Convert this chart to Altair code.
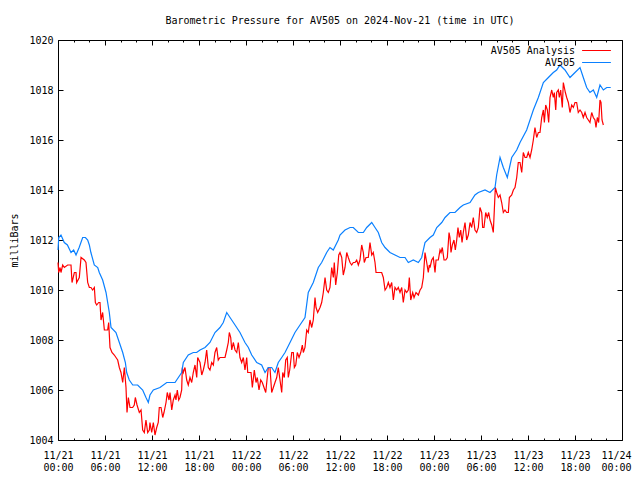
import altair as alt
import pandas as pd

# ---- data (hours after 2024-11-21 00:00 UTC, millibars) ----
blue_hours = [0.0, 0.1, 0.38, 0.8, 1.2, 1.66, 2.0, 2.3, 2.7, 3.15, 3.5, 3.79, 4.0, 4.2, 4.63, 5.07, 5.27,
              5.70, 6.13, 6.55, 6.77, 7.4, 7.83, 8.26, 8.6, 8.77, 9.1, 9.54, 10.17, 10.81, 11.23, 11.53,
              11.74, 12.17, 13.02, 13.88, 14.94, 15.15, 15.79, 16.0, 16.63, 17.27, 17.7, 18.13, 18.77,
              19.4, 20.04, 20.68, 21.1, 21.54, 21.96, 22.6, 23.23,
              23.87, 24.3, 24.73, 25.37, 26.0, 26.43, 26.85, 27.28, 27.7, 28.12, 28.56, 28.98, 29.62,
              30.25, 30.89, 31.53, 31.95, 32.59, 33.23, 33.66, 34.3, 34.72, 35.14, 35.78,
              36.0, 36.64, 37.28, 37.7, 38.34, 38.98, 39.41, 40.05, 40.47, 40.89, 41.32, 41.75, 42.38,
              43.02, 43.66, 44.3, 44.72, 45.36, 46.0, 46.43, 46.85,
              47.49, 47.91, 48.35, 48.99, 49.41, 50.04, 50.68, 51.32, 51.74, 52.6, 53.23, 53.66, 54.51,
              55.15, 55.79, 56.0, 56.43, 56.85, 57.36, 57.92, 58.56,
              58.98, 59.83, 60.68, 61.32, 61.96, 62.6, 63.23, 63.66, 64.08, 64.72, 65.36, 66.0, 66.64,
              67.06, 67.49, 67.91, 68.34, 68.77, 69.19, 69.62, 70.05, 70.56]
blue_mbar = [1011.6, 1012.1, 1012.2, 1011.9, 1011.8, 1011.5, 1011.6, 1011.4, 1011.7, 1012.1, 1012.1, 1012.0,
             1011.8, 1011.5, 1011.0, 1010.9, 1010.7, 1010.4, 1009.9, 1009.1, 1008.5, 1008.3, 1007.9, 1007.5,
             1007.1, 1006.7, 1006.4, 1006.2, 1006.2, 1006.0, 1005.7, 1005.5,
             1005.8, 1006.0, 1006.1, 1006.3, 1006.3, 1006.4, 1006.7, 1007.1, 1007.4, 1007.5, 1007.5, 1007.6,
             1007.7, 1007.9, 1008.3, 1008.5, 1008.7, 1009.1, 1008.9, 1008.6, 1008.3,
             1007.9, 1007.7, 1007.4, 1007.1, 1007.0, 1006.7, 1006.9, 1006.9, 1006.7, 1007.1, 1007.3, 1007.5,
             1007.9, 1008.3, 1008.6, 1008.9, 1009.9, 1010.3, 1010.9, 1011.1, 1011.5, 1011.7, 1011.6, 1012.0,
             1012.2, 1012.4, 1012.5, 1012.5, 1012.3, 1012.3, 1012.5, 1012.7, 1012.5, 1012.3, 1011.9, 1011.7,
             1011.5, 1011.4, 1011.3, 1011.3, 1011.1, 1011.2, 1011.1, 1011.3, 1011.9,
             1012.1, 1012.2, 1012.5, 1012.7, 1012.9, 1013.1, 1013.1, 1013.3, 1013.4, 1013.5, 1013.8, 1013.9,
             1014.0, 1013.9, 1014.1, 1014.6, 1015.3, 1014.9, 1014.5, 1015.3, 1015.6,
             1015.9, 1016.4, 1017.2, 1017.7, 1018.3, 1018.5, 1018.7, 1018.8, 1019.0, 1018.8, 1018.5, 1018.7,
             1018.9, 1018.5, 1018.1, 1017.9, 1018.0, 1017.7, 1018.2, 1018.0, 1018.1, 1018.1]

red_hours = [0.0, 0.09, 0.26, 0.38, 0.6, 0.81, 1.23, 1.66, 1.79, 2.09, 2.3, 2.38, 2.72, 2.94, 3.36, 3.57,
             3.79, 4.0, 4.21, 4.42, 4.64, 4.77, 4.94, 5.19, 5.36, 5.49, 5.7, 5.92, 6.34, 6.47, 6.64, 6.89,
             7.19, 7.4, 7.62, 7.83, 8.04, 8.26, 8.47, 8.68, 8.81, 8.98, 9.19, 9.53, 9.74, 9.87, 10.09,
             10.38, 10.6, 10.81, 11.02, 11.23, 11.45, 11.66,
             11.74, 11.96, 12.17, 12.38, 12.6, 12.8, 12.93, 13.15, 13.37, 13.53, 13.79, 13.95, 14.17, 14.3,
             14.52, 14.72, 14.94, 15.06, 15.23, 15.41, 15.57, 15.79, 15.87, 16.0, 16.21, 16.43, 16.63,
             16.85, 17.07, 17.27, 17.49, 17.71, 17.83, 18.13, 18.35, 18.55, 18.77, 18.98, 19.19, 19.4,
             19.62, 19.83, 20.04, 20.26, 20.46, 20.68, 20.9, 21.32, 21.54, 21.74, 21.87, 22.05, 22.18,
             22.38, 22.6, 22.82, 23.02, 23.23, 23.45, 23.66,
             23.87, 24.09, 24.22, 24.38, 24.64, 24.81, 25.06, 25.28, 25.44, 25.66, 25.88, 26.08, 26.3,
             26.52, 26.68, 26.85, 27.06, 27.28, 27.49, 27.7, 27.92, 28.12, 28.34, 28.56, 28.69, 28.89,
             29.07, 29.27, 29.4, 29.58, 29.84, 30.04, 30.17, 30.35, 30.55, 30.77, 30.99, 31.19, 31.32,
             31.53, 31.75, 31.95, 32.17, 32.39, 32.59, 32.81, 32.94, 33.15, 33.45, 33.66, 33.87, 34.09,
             34.3, 34.51, 34.72, 34.94, 35.15, 35.27, 35.45, 35.66, 35.84,
             36.0, 36.22, 36.42, 36.64, 36.86, 37.06, 37.28, 37.49, 37.7, 37.92, 38.13, 38.34, 38.55,
             38.77, 38.98, 39.1, 39.32, 39.61, 39.83, 40.05, 40.25, 40.47, 40.6, 40.89, 41.11, 41.32,
             41.53, 41.75, 41.96, 42.17, 42.38, 42.6, 42.81, 43.02, 43.24, 43.44, 43.66, 43.88, 44.08,
             44.3, 44.51, 44.72, 44.85, 45.03, 45.28, 45.45, 45.7, 46.0, 46.22, 46.43, 46.64, 46.85,
             47.07, 47.27, 47.4,
             47.49, 47.71, 47.91, 48.13, 48.26, 48.55, 48.77, 48.9, 49.06, 49.28, 49.5, 49.7, 49.92,
             50.04, 50.17, 50.34, 50.55, 50.72, 50.9, 51.06, 51.23, 51.41, 51.58, 51.74, 51.96, 52.17,
             52.38, 52.6, 52.81, 53.02, 53.23, 53.45, 53.66, 53.87, 54.09, 54.21, 54.38, 54.6, 54.8,
             54.98, 55.15, 55.37, 55.57, 55.7, 55.83, 56.0, 56.21, 56.43, 56.64, 56.85, 57.06, 57.28,
             57.49, 57.62, 57.92, 58.13, 58.34, 58.56, 58.76,
             58.98, 59.2, 59.4, 59.62, 59.83, 60.04, 60.26, 60.47, 60.68, 60.89, 61.11, 61.32, 61.53,
             61.75, 61.96, 62.09, 62.26, 62.47, 62.64, 62.81, 63.03, 63.23, 63.36, 63.54, 63.66, 63.87,
             64.0, 64.17, 64.38, 64.51, 64.64, 64.77, 64.94, 65.15, 65.36, 65.58, 65.79, 66.0, 66.21,
             66.42, 66.64, 66.86, 67.06, 67.28, 67.49, 67.7, 67.91, 68.13, 68.34, 68.55, 68.68, 68.85,
             69.02, 69.19, 69.32, 69.45, 69.62]
red_mbar = [1011.1, 1010.7, 1010.9, 1010.7, 1011.0, 1010.9, 1011.0, 1011.0, 1010.3, 1010.7, 1010.7, 1010.3,
            1010.5, 1011.3, 1011.2, 1011.1, 1010.3, 1010.1, 1010.1, 1010.0, 1010.1, 1009.5, 1009.4, 1009.5,
            1009.5, 1008.8, 1009.1, 1008.4, 1008.4, 1008.7, 1007.7, 1007.5, 1007.4, 1007.3, 1007.2, 1006.9,
            1006.7, 1006.3, 1006.9, 1006.1, 1005.1, 1005.7, 1005.3, 1005.3, 1005.4, 1005.7, 1005.4, 1005.1,
            1005.2, 1004.4, 1004.3, 1004.8, 1004.3, 1004.4,
            1004.7, 1004.3, 1004.7, 1004.2, 1004.5, 1004.7, 1005.3, 1005.3, 1004.9, 1005.1, 1005.5, 1005.9,
            1005.6, 1005.9, 1005.2, 1005.6, 1005.8, 1005.6, 1006.0, 1005.6, 1005.7, 1006.0, 1006.9, 1006.7,
            1006.9, 1006.4, 1006.2, 1006.5, 1006.3, 1006.7, 1007.0, 1006.5, 1007.3, 1007.1, 1006.6, 1006.8,
            1007.1, 1007.6, 1006.9, 1006.8, 1007.1, 1007.0, 1007.5, 1007.7, 1007.2, 1007.3, 1007.3, 1007.3,
            1007.6, 1007.9, 1008.3, 1008.1, 1007.6, 1007.9, 1007.6, 1007.5, 1007.9, 1007.3, 1007.1, 1007.3,
            1006.8, 1007.3, 1006.7, 1006.7, 1006.7, 1006.1, 1006.8, 1006.3, 1006.5, 1006.0, 1006.4, 1006.3,
            1006.1, 1005.9, 1006.4, 1006.9, 1006.9, 1005.9, 1006.1, 1006.3, 1006.5, 1006.9, 1006.4, 1005.9,
            1006.7, 1006.5, 1007.2, 1007.3, 1006.5, 1006.8, 1007.5, 1007.5, 1006.9, 1007.0, 1007.5, 1007.3,
            1007.5, 1007.8, 1007.5, 1007.7, 1008.4, 1008.3, 1008.8, 1008.5, 1008.8, 1009.7, 1009.3, 1009.1,
            1009.3, 1009.5, 1009.9, 1010.5, 1010.0, 1009.9, 1010.1, 1010.9, 1010.5, 1011.1, 1010.2, 1010.7,
            1011.4,
            1011.5, 1011.3, 1010.6, 1010.9, 1011.5, 1011.3, 1011.1, 1011.0, 1011.1, 1011.1, 1011.2, 1011.0,
            1011.2, 1011.8, 1011.5, 1011.1, 1011.3, 1011.3, 1011.9, 1011.4, 1011.5, 1011.1, 1010.7, 1010.7,
            1010.7, 1010.7, 1010.5, 1010.0, 1010.1, 1010.3, 1010.1, 1010.3, 1009.6, 1010.1, 1010.0, 1010.1,
            1009.9, 1010.1, 1009.5, 1010.0, 1009.9, 1010.0, 1010.5, 1009.6, 1009.9, 1009.7, 1009.9, 1009.8,
            1010.0, 1010.1, 1010.5, 1011.5, 1011.1, 1010.7, 1011.0,
            1010.9, 1011.2, 1011.3, 1010.7, 1011.2, 1011.2, 1011.6, 1011.5, 1011.7, 1011.2, 1011.2, 1011.3,
            1012.3, 1012.1, 1011.5, 1011.8, 1012.0, 1011.6, 1012.0, 1012.5, 1012.1, 1012.4, 1011.9, 1012.3,
            1012.7, 1012.0, 1012.2, 1012.7, 1012.5, 1012.9, 1012.4, 1012.3, 1012.5, 1013.3, 1013.1, 1012.5,
            1012.5, 1013.1, 1012.9, 1013.1, 1012.8, 1012.6, 1012.3, 1013.2, 1014.1, 1013.9, 1013.7, 1013.8,
            1013.5, 1013.1, 1013.2, 1013.1, 1013.1, 1013.7, 1013.8, 1014.0, 1014.1, 1014.5, 1015.1,
            1015.1, 1014.7, 1015.5, 1015.3, 1015.3, 1015.5, 1015.3, 1015.6, 1016.0, 1016.5, 1016.1, 1016.3,
            1016.3, 1016.9, 1017.2, 1016.7, 1017.4, 1017.2, 1016.7, 1017.7, 1018.0, 1017.7, 1017.9, 1017.2,
            1017.9, 1018.0, 1017.7, 1018.0, 1017.3, 1018.3, 1018.1, 1017.9, 1017.7, 1017.5, 1017.1, 1017.4,
            1017.3, 1017.5, 1017.5, 1017.1, 1017.2, 1017.1, 1016.9, 1017.1, 1016.9, 1016.8, 1016.7, 1017.1,
            1016.9, 1016.8, 1016.5, 1016.9, 1016.7, 1017.6, 1017.5, 1016.8, 1016.6]

series_names = ["AV505 Analysis", "AV505"]
series_colors = ["#ff0000", "#0a80ff"]
label_hours = list(range(0, 73, 6))
tick_hours = list(range(0, 73, 2))
y_values = list(range(1004, 1021, 2))

red_df = pd.DataFrame({"hour": red_hours, "mbar": red_mbar, "series": series_names[0]})
blue_df = pd.DataFrame({"hour": blue_hours, "mbar": blue_mbar, "series": series_names[1]})

FONT = "DejaVu Sans Mono"
W, H = 564, 400

x_scale = alt.Scale(domain=[0, 72], nice=False, zero=False)
y_scale = alt.Scale(domain=[1004, 1020], nice=False, zero=False)
color_scale = alt.Scale(domain=series_names, range=series_colors)

tick_len = {"condition": {"test": "datum.value % 6 === 0", "value": 5}, "value": 2}
last_label_shift = {"condition": {"test": "datum.value === 72", "value": -6}, "value": 0}

x_label_axis = alt.Axis(
    orient="bottom", values=label_hours, ticks=False, tickSize=0, domain=False, grid=False,
    labelExpr="['11/' + (21 + floor(datum.value / 24)), (datum.value % 24 < 10 ? '0' : '') + (datum.value % 24) + ':00']",
    labelFont=FONT, labelFontSize=10, labelColor="black", labelPadding=10, labelLineHeight=12.5,
    labelOverlap=False, labelFlush=False, labelAngle=0, labelAlign="center", labelBaseline="top",
    labelOffset=last_label_shift, title=None)
x_ticks_bottom = alt.Axis(orient="top", offset=-H, values=tick_hours, labels=False, domain=False,
                          grid=False, tickSize=tick_len, tickColor="black", tickWidth=1, title=None)
x_ticks_top = alt.Axis(orient="bottom", offset=-H, values=tick_hours, labels=False, domain=False,
                       grid=False, tickSize=tick_len, tickColor="black", tickWidth=1, title=None)

y_label_axis = alt.Axis(
    orient="left", values=y_values, ticks=False, tickSize=0, domain=False, grid=False, format="d",
    labelFont=FONT, labelFontSize=10, labelColor="black", labelPadding=5,
    title="milliBars", titleFont=FONT, titleFontSize=10, titleFontWeight="normal", titleColor="black",
    titleX=-40.5, titleY=H / 2, titleAngle=270, titleAlign="center", titleBaseline="alphabetic")
y_ticks_left = alt.Axis(orient="right", offset=-W, values=y_values, labels=False, domain=False,
                        grid=False, tickSize=5, tickColor="black", tickWidth=1, title=None)
y_ticks_right = alt.Axis(orient="left", offset=-W, values=y_values, labels=False, domain=False,
                         grid=False, tickSize=5, tickColor="black", tickWidth=1, title=None)

legend = alt.Legend(
    orient="none", legendX=532, legendY=4, title=None, symbolType="M-2.4,0H2.4", symbolSize=144,
    symbolStrokeWidth=1, labelAlign="right", labelOffset=alt.ExprRef("-28"), labelFont=FONT,
    labelFontSize=10, labelColor="black", rowPadding=0, padding=0, symbolOffset=0)

red = alt.Chart(red_df).mark_line(strokeWidth=1.2).encode(
    x=alt.X("hour:Q", scale=x_scale, axis=x_label_axis),
    y=alt.Y("mbar:Q", scale=y_scale, axis=y_label_axis),
    stroke=alt.Stroke("series:N", scale=color_scale, legend=legend),
)
blue = alt.Chart(blue_df).mark_line(strokeWidth=1.2).encode(
    x=alt.X("hour:Q", scale=x_scale, axis=x_ticks_bottom),
    y=alt.Y("mbar:Q", scale=y_scale, axis=y_ticks_left),
    stroke=alt.Stroke("series:N", scale=color_scale, legend=legend),
)
frame = alt.Chart(blue_df).mark_line(strokeOpacity=0).encode(
    x=alt.X("hour:Q", scale=x_scale, axis=x_ticks_top),
    y=alt.Y("mbar:Q", scale=y_scale, axis=y_ticks_right),
)

chart = alt.layer(red, blue, frame).resolve_axis(x="independent", y="independent").properties(
    width=W, height=H,
    title=alt.Title("Barometric Pressure for AV505 on 2024-Nov-21 (time in UTC)", font=FONT,
                    fontSize=10, fontWeight="normal", color="black", anchor="middle",
                    frame="group", offset=9),
    autosize=alt.AutoSizeParams(type="none"),
    padding={"left": 50, "top": 32, "right": 10, "bottom": 32},
    background="white",
).configure_view(stroke="black", strokeWidth=1)

chart.save("out.html", embed_options={"renderer": "svg", "actions": False})
